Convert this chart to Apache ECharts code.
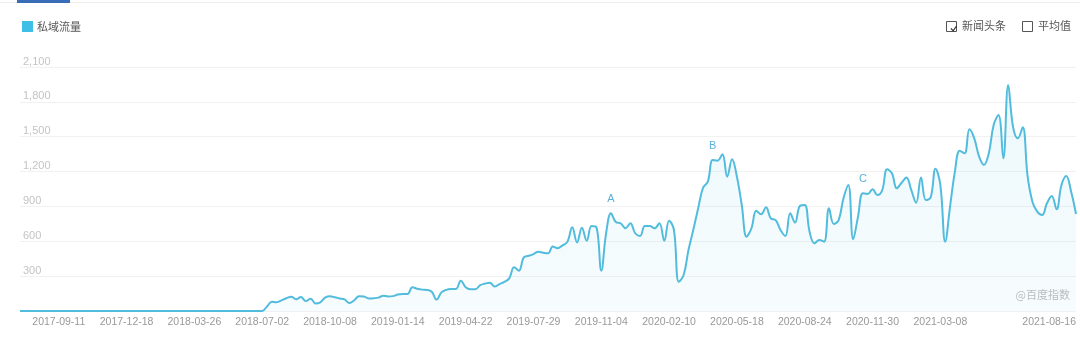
<!DOCTYPE html>
<html>
<head>
<meta charset="utf-8">
<script src="https://cdn.jsdelivr.net/npm/echarts@6/dist/echarts.min.js"></script>
<style>
html,body{margin:0;padding:0;background:#fff;}
#chart{width:1080px;height:337px;}
</style>
</head>
<body>
<div id="chart"></div>
<script>
// ---- data ----
const startDate = '2017-07-17'; // first weekly category
const seriesName = '私域流量';
const tickLabels = ['2017-09-11','2017-12-18','2018-03-26','2018-07-02','2018-10-08','2019-01-14','2019-04-22','2019-07-29','2019-11-04','2020-02-10','2020-05-18','2020-08-24','2020-11-30','2021-03-08'];
const endLabel = '2021-08-16';
const yTicks = [0, 300, 600, 900, 1200, 1500, 1800, 2100];
const values = [
  0,0,0,0,0,0,0,0,0,0, 0,0,0,0,0,0,0,0,0,0,
  0,0,0,0,0,0,0,0,0,0, 0,0,0,0,0,0,0,0,0,0,
  0,0,0,0,0,0,0,0,0,0, 0,
  40,80,76,92,110,122,102,120,85,
  105,65,75,115,126,118,108,100,68,92,
  128,125,108,110,115,132,125,128,142,146,
  146,204,192,184,181,165,98,160,182,189,
  190,261,205,188,188,222,236,244,210,232,
  250,281,376,347,462,475,490,510,502,496,
  555,540,565,595,720,590,717,605,731,720,
  347,670,841,765,755,712,755,669,645,731,
  731,712,755,605,777,697,252,310,525,700,
  884,1060,1113,1300,1294,1349,1156,1306,1156,912,
  640,712,863,832,892,798,783,697,645,841,
  760,904,912,682,583,611,597,884,749,783,
  970,1084,617,812,1013,1007,1047,998,1041,1219,
  1185,1056,1104,1150,1041,932,1150,955,978,1225,
  1084,597,898,1200,1380,1357,1564,1486,1328,1257,
  1357,1601,1687,1314,1945,1586,1486,1581,1162,941,
  855,826,927,990,875,1084,1162,1027,835
];
const eventMarks = [
  {name: 'A', index: 122},
  {name: 'B', index: 143},
  {name: 'C', index: 174}
];

// ---- categories (weekly dates) ----
const categories = [];
{
  const d0 = new Date(startDate + 'T00:00:00Z');
  for (let i = 0; i < values.length; i++) {
    const d = new Date(d0.getTime() + i * 7 * 86400000);
    categories.push(d.toISOString().slice(0, 10));
  }
}
const lastIdx = categories.length - 1;

const chart = echarts.init(document.getElementById('chart'), null, {renderer: 'canvas'});
const lineColor = '#3FBFE8';
const textFont = '"Noto Sans CJK SC", "Liberation Sans", sans-serif';

chart.setOption({
  backgroundColor: '#fff',
  animation: false,
  textStyle: {fontFamily: textFont},
  legend: {
    left: 17, top: 16,
    icon: 'rect', itemWidth: 11, itemHeight: 11, itemGap: 10,
    textStyle: {color: '#555', fontSize: 11, fontFamily: textFont, padding: [0,0,0,-1]},
    data: [seriesName]
  },
  grid: {left: 20, right: 4, top: 67, bottom: 26, containLabel: false},
  xAxis: {
    type: 'category',
    data: categories,
    boundaryGap: false,
    axisLine: {show: false},
    axisTick: {show: false},
    splitLine: {show: false},
    axisLabel: {
      color: '#999', fontSize: 10.5, margin: 6,
      fontFamily: '"Liberation Sans", sans-serif',
      showMaxLabel: true,
      alignMaxLabel: 'right',
      interval: function (idx, val) { return idx === lastIdx || tickLabels.indexOf(val) >= 0; },
      formatter: function (val, idx) { return idx === lastIdx ? endLabel : val; }
    }
  },
  yAxis: {
    type: 'value',
    min: yTicks[0], max: yTicks[yTicks.length - 1], interval: yTicks[1] - yTicks[0],
    axisLine: {show: false},
    axisTick: {show: false},
    splitLine: {lineStyle: {color: '#f1f1f1', width: 1}},
    axisLabel: {
      inside: true, showMinLabel: false,
      color: '#c4c4c4', fontSize: 11, margin: 3,
      fontFamily: '"Liberation Sans", sans-serif',
      verticalAlign: 'bottom', padding: [0, 0, 0, 0],
      formatter: function (v) { return v.toLocaleString('en-US'); }
    }
  },
  series: [{
    name: seriesName,
    type: 'line',
    data: values,
    smooth: 0.4,
    showSymbol: false,
    symbol: 'none',
    color: lineColor,
    lineStyle: {color: '#52BCDD', width: 2},
    areaStyle: {
      color: new echarts.graphic.LinearGradient(0, 0, 0, 1, [
        {offset: 0, color: 'rgba(90,195,230,0.16)'},
        {offset: 1, color: 'rgba(90,195,230,0.07)'}
      ])
    },
    markPoint: {
      symbol: 'circle', symbolSize: 1,
      itemStyle: {color: 'rgba(0,0,0,0)'},
      label: {show: true, position: 'top', distance: 8, color: '#5AB2DC', fontSize: 11, fontFamily: '"Liberation Sans", sans-serif', formatter: '{b}'},
      data: eventMarks.map(m => ({name: m.name, coord: [categories[m.index], values[m.index]]}))
    }
  }],
  graphic: [
    {type: 'rect', left: 0, top: 2, shape: {width: 1080, height: 1}, style: {fill: '#ececec'}, silent: true},
    {type: 'rect', left: 17, top: 0, shape: {width: 53, height: 3}, style: {fill: '#3A6DB8'}, silent: true},
    // checkboxes
    {type: 'rect', left: 946, top: 21, shape: {x: 0, y: 0, width: 10, height: 10}, style: {fill: '#fff', stroke: '#555', lineWidth: 1}, silent: true},
    {type: 'polyline', left: 948.5, top: 23.5, shape: {points: [[0, 2.5], [2.2, 4.8], [5.5, 0]]}, style: {stroke: '#333', lineWidth: 1.2, fill: null}, silent: true},
    {type: 'text', left: 962, top: 20, style: {text: '新闻头条', fill: '#555', fontSize: 11, fontFamily: textFont}, silent: true},
    {type: 'rect', left: 1022, top: 21, shape: {x: 0, y: 0, width: 10, height: 10}, style: {fill: '#fff', stroke: '#555', lineWidth: 1}, silent: true},
    {type: 'text', left: 1038, top: 20, style: {text: '平均值', fill: '#555', fontSize: 11, fontFamily: textFont}, silent: true},
    // watermark
    {type: 'text', right: 10, top: 289, style: {text: '@百度指数', fill: '#bdbdbd', fontSize: 11, fontFamily: textFont}, silent: true}
  ]
});
</script>
</body>
</html>
